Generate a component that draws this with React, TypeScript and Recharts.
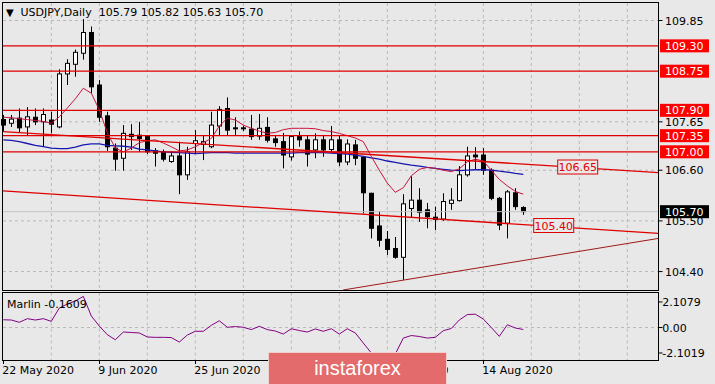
import React from 'react';
import { ComposedChart, Bar, Line, XAxis, YAxis, CartesianGrid, ReferenceLine, ReferenceDot } from 'recharts';

// daily candles, 22 May 2020 .. 21 Aug 2020
const opens = [107.70, 107.62, 107.73, 107.54, 107.75, 107.65, 107.69, 107.54, 108.69, 108.90, 109.14, 109.59, 108.45, 107.78, 107.08, 106.86, 107.38, 107.36, 107.34, 107.02, 107.00, 106.79, 106.91, 106.50, 107.18, 107.16, 107.11, 107.56, 107.94, 107.52, 107.52, 107.49, 107.34, 107.53, 107.28, 107.22, 106.89, 107.33, 107.26, 107.04, 107.26, 107.05, 107.26, 106.78, 107.15, 106.88, 106.10, 105.39, 105.10, 104.90, 104.71, 105.77, 105.95, 105.74, 105.58, 105.54, 105.88, 105.94, 106.50, 106.93, 106.93, 106.60, 105.99, 105.45, 106.11, 105.79];
const highs = [107.80, 107.80, 107.94, 107.97, 107.94, 107.94, 107.87, 108.79, 109.01, 109.22, 109.88, 109.72, 108.56, 107.87, 107.18, 107.58, 107.60, 107.65, 107.36, 107.08, 107.05, 107.00, 107.22, 107.11, 107.47, 107.36, 107.87, 107.99, 108.18, 107.75, 107.56, 107.80, 107.82, 107.75, 107.36, 107.41, 107.36, 107.44, 107.36, 107.40, 107.36, 107.56, 107.36, 107.27, 107.26, 106.89, 106.11, 105.71, 105.28, 105.15, 106.08, 106.47, 106.21, 105.89, 105.81, 106.10, 106.21, 106.69, 107.11, 107.10, 107.08, 106.64, 106.02, 106.17, 106.21, 105.82];
const lows = [107.45, 107.54, 107.41, 107.36, 107.58, 107.11, 107.40, 107.51, 108.45, 108.63, 109.00, 108.27, 107.65, 107.02, 106.59, 106.59, 107.04, 107.00, 106.95, 106.68, 106.79, 106.76, 106.08, 106.39, 106.95, 106.82, 107.08, 107.36, 107.36, 107.36, 107.45, 107.26, 107.26, 107.20, 107.11, 106.64, 106.81, 107.11, 106.68, 106.86, 106.89, 106.97, 106.69, 106.71, 106.71, 105.66, 105.12, 104.94, 104.76, 104.68, 104.22, 105.58, 105.48, 105.34, 105.30, 105.50, 105.74, 105.92, 106.46, 106.62, 106.50, 105.95, 105.30, 105.12, 105.74, 105.63];
const closes = [107.58, 107.71, 107.52, 107.76, 107.65, 107.81, 107.60, 108.69, 108.92, 109.16, 109.59, 108.41, 107.75, 107.11, 106.84, 107.40, 107.33, 107.29, 107.00, 106.97, 106.84, 106.91, 106.50, 107.00, 107.24, 107.22, 107.58, 107.92, 107.47, 107.50, 107.51, 107.33, 107.51, 107.25, 107.20, 106.93, 107.33, 107.26, 106.95, 107.26, 107.04, 107.26, 106.78, 107.17, 106.86, 106.11, 105.34, 105.08, 104.88, 104.71, 105.87, 105.95, 105.69, 105.59, 105.53, 105.92, 105.95, 106.50, 106.91, 106.89, 106.60, 105.99, 105.41, 106.13, 105.81, 105.70];

const fastMa = [107.75, 107.74, 107.72, 107.70, 107.68, 107.66, 107.62, 107.76, 107.95, 108.15, 108.38, 108.27, 107.91, 107.41, 107.08, 107.00, 107.08, 107.20, 107.24, 107.26, 107.19, 107.11, 107.02, 107.04, 107.11, 107.20, 107.29, 107.56, 107.73, 107.69, 107.58, 107.51, 107.45, 107.40, 107.42, 107.48, 107.51, 107.51, 107.51, 107.50, 107.46, 107.44, 107.40, 107.35, 107.30, 107.22, 106.90, 106.60, 106.32, 106.12, 106.22, 106.48, 106.62, 106.66, 106.64, 106.60, 106.57, 106.63, 106.78, 106.84, 106.80, 106.60, 106.40, 106.26, 106.14, 106.08];
const slowMa = [107.26, 107.25, 107.22, 107.18, 107.14, 107.11, 107.08, 107.07, 107.07, 107.10, 107.15, 107.17, 107.17, 107.14, 107.13, 107.12, 107.10, 107.06, 107.04, 107.02, 107.00, 106.99, 106.98, 106.97, 106.96, 106.97, 106.98, 106.98, 106.98, 106.97, 106.97, 106.97, 106.97, 106.97, 106.97, 106.97, 106.97, 106.98, 106.98, 106.98, 106.98, 106.97, 106.96, 106.95, 106.93, 106.90, 106.87, 106.84, 106.80, 106.77, 106.74, 106.71, 106.69, 106.66, 106.64, 106.62, 106.60, 106.59, 106.60, 106.61, 106.61, 106.60, 106.58, 106.56, 106.53, 106.51];
const marlin = [0.64, 0.62, 0.43, 0.73, 0.62, 0.73, 0.51, 1.61, 1.94, 2.19, 2.57, 0.95, 0.12, -0.59, -1.01, -0.37, -0.41, -0.45, -0.78, -0.81, -0.81, -0.83, -1.20, -0.62, -0.31, -0.31, 0.18, 0.56, 0.02, 0.08, 0.02, -0.17, 0.10, -0.17, -0.29, -0.54, -0.10, -0.25, -0.37, -0.12, -0.31, -0.10, -0.54, -0.10, -0.45, -1.28, -2.10, -3.20, -3.40, -2.19, -0.87, -0.66, -0.74, -0.87, -0.81, -0.26, -0.08, 0.62, 1.07, 1.10, 0.70, 0.00, -0.73, 0.23, -0.04, -0.1609];

const levels = [109.30, 108.75, 107.90, 107.35, 107.00];
const priceTicks = [109.85, 107.65, 106.60, 105.50, 104.40];
const lastPrice = 105.70;
const marlinTicks = [2.1079, 0, -2.1019];
const gridIdx = [6, 12, 18, 24, 30, 36, 42, 48, 54, 60, 66, 72, 78];
const dateIdx = [0, 12, 24, 36, 48, 60];
const dateLabels = ['22 May 2020', '9 Jun 2020', '25 Jun 2020', '13 Jul 2020', '29 Jul 2020', '14 Aug 2020'];

// trend lines: [index, price] pairs
const upperTrend = [[-0.04, 107.44], [81.9, 106.55]];
const lowerTrend = [[-0.04, 106.15], [81.9, 105.23]];
const supportTrend = [[42.46, 104.0], [81.9, 105.12]];
const trendTags = [{ i: 71.8, p: 106.67, text: '106.65' }, { i: 68.8, p: 105.40, text: '105.40' }];

const data = opens.map((o, i) => ({
  i, o, h: highs[i], l: lows[i], c: closes[i],
  range: [lows[i], highs[i]],
  fast: fastMa[i], slow: slowMa[i], marlin: marlin[i],
}));

const BG = '#e8e8e8';
const FONT = '"DejaVu Sans", sans-serif';
const X_DOMAIN = [-0.04, 81.9];

const Candle = (props: any) => {
  const { x, y, width, height, payload } = props;
  if (x == null || !payload) return null;
  const { o, h, l, c } = payload;
  const cx = Math.round(x + width / 2) + 0.5;
  const py = (p: number) => y + ((h - p) / (h - l || 1)) * height;
  const top = py(Math.max(o, c));
  const bot = py(Math.min(o, c));
  const bull = c >= o;
  return (
    <g>
      <line x1={cx} x2={cx} y1={y} y2={y + height} stroke="#000" strokeWidth={1} />
      <rect x={cx - 2} y={top} width={4} height={Math.max(bot - top, 1)} fill={bull ? '#fff' : '#000'} stroke="#000" strokeWidth={1} />
    </g>
  );
};

const PriceTick = (props: any) => {
  const { x, y, payload } = props;
  const v = payload.value;
  const isLevel = levels.includes(v);
  const isLast = v === lastPrice;
  if (isLevel || isLast) {
    return (
      <g>
        <rect x={x + 1.5} y={y - 6.5} width={49} height={13} fill={isLast ? '#000' : '#ff0000'} />
        <text x={x + 6.5} y={y + 4} fontSize={11} fontFamily={FONT} fill="#fff">{v.toFixed(2)}</text>
      </g>
    );
  }
  return (
    <g>
      <line x1={x} x2={x + 4} y1={y} y2={y} stroke="#000" />
      <text x={x + 6.5} y={y + 4} fontSize={11} fontFamily={FONT} fill="#000">{v.toFixed(2)}</text>
    </g>
  );
};

const MarlinTick = (props: any) => {
  const { x, y, payload } = props;
  const v = payload.value;
  return (
    <g>
      <line x1={x} x2={x + 4} y1={y} y2={y} stroke="#000" />
      <text x={x + 3.8} y={y + 4} fontSize={11} fontFamily={FONT} fill="#000">{v === 0 ? v.toFixed(2) : String(v)}</text>
    </g>
  );
};

const DateTick = (props: any) => {
  const { x, y, payload } = props;
  const k = dateIdx.indexOf(payload.value);
  return (
    <g>
      <line x1={Math.round(x) + 0.5} x2={Math.round(x) + 0.5} y1={y} y2={y + 4} stroke="#000" />
      <text x={x - 1} y={y + 13.5} fontSize={11} fontFamily={FONT} fill="#000">{dateLabels[k]}</text>
    </g>
  );
};

const TagShape = (text: string) => (props: any) => {
  const { cx, cy } = props;
  if (cx == null) return null;
  return (
    <g>
      <rect x={cx - 20} y={cy - 7} width={40} height={14} fill={BG} stroke="#e00000" strokeWidth={1} />
      <text x={cx} y={cy + 4} textAnchor="middle" fontSize={11} fontFamily={FONT} fill="#e00000">{text}</text>
    </g>
  );
};

const seg = (pts: number[][]) => [{ x: pts[0][0], y: pts[0][1] }, { x: pts[1][0], y: pts[1][1] }];

export default function App() {
  return (
    <div style={{ position: 'fixed', left: 0, top: 0, width: 715, height: 384, background: BG, overflow: 'hidden', fontFamily: FONT }}>
      <div style={{ position: 'absolute', left: 0, top: 0 }}>
        <ComposedChart width={715} height={291} data={data} margin={{ top: 3, right: 0.5, bottom: 1, left: 3 }}>
          <CartesianGrid stroke="#b8b8b8" strokeDasharray="3 3" horizontalValues={priceTicks} verticalValues={gridIdx} />
          <XAxis type="number" dataKey="i" domain={X_DOMAIN} hide />
          <YAxis orientation="right" width={56} domain={[104.0, 110.23]} ticks={[...priceTicks, lastPrice, ...levels]}
            interval={0} tick={PriceTick} tickLine={false} axisLine={false} tickSize={0} tickMargin={0} />
          <ReferenceLine y={lastPrice} stroke="#c4c4c4" strokeWidth={1} />
          <Line dataKey="slow" stroke="#1818b0" strokeWidth={1.3} dot={false} isAnimationActive={false} />
          <Line dataKey="fast" stroke="#c8143c" strokeWidth={1} dot={false} isAnimationActive={false} />
          <Bar dataKey="range" barSize={5} shape={Candle} isAnimationActive={false} />
          {levels.map((v) => (
            <ReferenceLine key={v} y={v} stroke="#e00000" strokeWidth={1.2} />
          ))}
          <ReferenceLine segment={seg(upperTrend)} stroke="#e00000" strokeWidth={1.3} ifOverflow="hidden" />
          <ReferenceLine segment={seg(lowerTrend)} stroke="#e00000" strokeWidth={1.3} ifOverflow="hidden" />
          <ReferenceLine segment={seg(supportTrend)} stroke="#a01818" strokeWidth={1} ifOverflow="hidden" />
          {trendTags.map((t) => (
            <ReferenceDot key={t.text} x={t.i} y={t.p} shape={TagShape(t.text)} />
          ))}
        </ComposedChart>
      </div>
      <div style={{ position: 'absolute', left: 0, top: 291 }}>
        <ComposedChart width={715} height={93} data={data} margin={{ top: 1.5, right: 0.5, bottom: 0, left: 3 }}>
          <CartesianGrid stroke="#b8b8b8" strokeDasharray="3 3" horizontalValues={[0]} verticalValues={gridIdx} />
          <XAxis type="number" dataKey="i" domain={X_DOMAIN} height={24} ticks={dateIdx} interval={0}
            tick={DateTick} tickLine={false} axisLine={false} tickSize={0} tickMargin={0} />
          <YAxis orientation="right" width={56} domain={[-2.68, 2.89]} allowDataOverflow ticks={marlinTicks}
            interval={0} tick={MarlinTick} tickLine={false} axisLine={false} tickSize={0} tickMargin={0} />
          <Line dataKey="marlin" stroke="#800080" strokeWidth={1} dot={false} isAnimationActive={false} />
        </ComposedChart>
      </div>
      <div style={{ position: 'absolute', left: 2, top: 2, width: 657, height: 289, border: '1px solid #000', boxSizing: 'border-box', pointerEvents: 'none' }} />
      <div style={{ position: 'absolute', left: 2, top: 292, width: 657, height: 69, border: '1px solid #000', boxSizing: 'border-box', pointerEvents: 'none' }} />
      <div style={{ position: 'absolute', left: 6, top: 5.5, fontSize: 11, lineHeight: '13px', whiteSpace: 'pre', color: '#000' }}>
        <span style={{ display: 'inline-block', width: 14.5, fontSize: 10 }}>▼</span>USDJPY,Daily  105.79 105.82 105.63 105.70
      </div>
      <div style={{ position: 'absolute', left: 7, top: 297.5, fontSize: 11, lineHeight: '13px', whiteSpace: 'pre', color: '#000' }}>
        Marlin -0.1609
      </div>
      <div style={{ position: 'absolute', left: 268, top: 352, width: 179, height: 34, background: '#e36b6b', border: '1px solid #f3d0d0', boxSizing: 'border-box', color: '#fff', fontFamily: '"Liberation Sans", Arial, sans-serif', fontSize: 20, lineHeight: '31px', textAlign: 'center' }}>
        instaforex
      </div>
    </div>
  );
}
